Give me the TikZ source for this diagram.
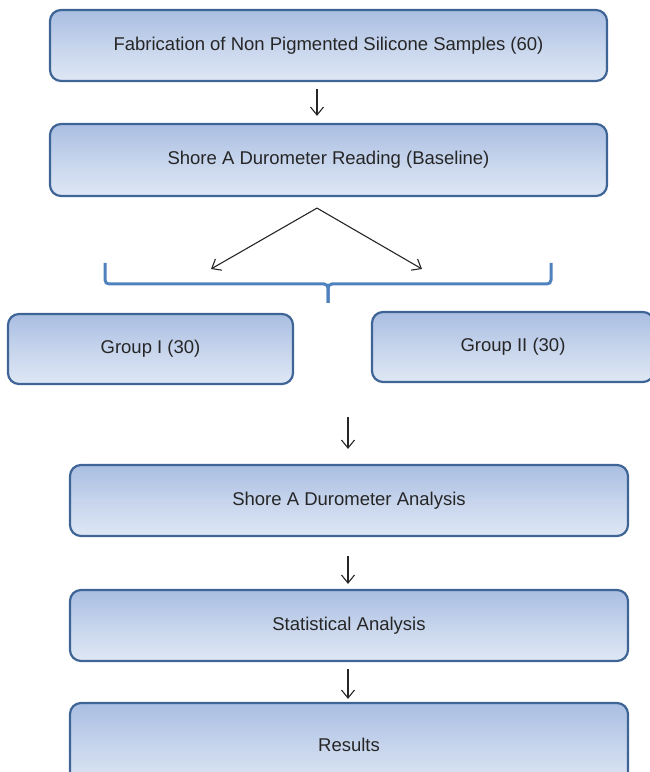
\documentclass[tikz,border=0pt]{standalone}
\usepackage{fontspec}
\setmainfont{Liberation Sans}
\usetikzlibrary{arrows.meta,calc}
\definecolor{boxline}{HTML}{3F6596}
\definecolor{boxtop}{HTML}{A9BEE2}
\definecolor{boxmid}{HTML}{C6D4EC}
\definecolor{boxbot}{HTML}{DEE7F4}
\definecolor{bracecol}{HTML}{4F81BD}
\definecolor{txt}{HTML}{262626}
\tikzset{
  flowbox/.style={draw=boxline, line width=2.2pt, rounded corners=11pt,
    top color=boxtop, bottom color=boxbot, middle color=boxmid,
    text=txt, font=\fontsize{18.5}{22}\selectfont, inner sep=0pt},
  arr/.style={line width=1.1pt, black!85, -{Straight Barb[length=8pt,width=13pt]}},
  bracestyle/.style={draw=bracecol, line width=3pt, rounded corners=4pt}
}
\begin{document}
\begin{tikzpicture}[x=1pt,y=1pt]
\useasboundingbox (0,0) rectangle (650,772);
\clip (0,0) rectangle (650,772);
\node[flowbox, minimum width=557pt, minimum height=71pt] (b1) at (328.5,726.5) {Fabrication of Non Pigmented Silicone Samples (60)};
\node[flowbox, minimum width=557pt, minimum height=72pt] (b2) at (328.5,612) {Shore A Durometer Reading (Baseline)};
\node[flowbox, minimum width=285pt, minimum height=70pt] (g1) at (150.5,423) {Group I (30)};
\node[flowbox, minimum width=282pt, minimum height=70pt] (g2) at (513,425) {Group II (30)};
\node[flowbox, minimum width=558pt, minimum height=71pt] (b3) at (349,271.5) {Shore A Durometer Analysis};
\node[flowbox, minimum width=558pt, minimum height=71pt] (b4) at (349,146.5) {Statistical Analysis};
\node[flowbox, minimum width=558pt, minimum height=84pt] (b5) at (349,27) {Results};

\draw[arr] ([xshift=-11.5pt,yshift=-7pt]b1.south) -- ([xshift=-11.5pt,yshift=7pt]b2.north);

\coordinate (split) at ([xshift=-11.5pt,yshift=-11pt]b2.south);
\coordinate (leftend) at (211,503);
\coordinate (rightend) at (422,503);
\draw[arr] (split) -- (leftend);
\draw[arr] (split) -- (rightend);

\coordinate (brL) at (105,509);
\coordinate (brR) at (551,509);
\coordinate (brM) at (328,488);
\coordinate (brT) at (328,469);
\draw[bracestyle] (brL) -- (brL |- brM) -- (brM) -- (brT);
\draw[bracestyle] (brR) -- (brR |- brM) -- (brM) -- (brT);

\draw[arr] ([xshift=-1pt,yshift=47pt]b3.north) -- ([xshift=-1pt,yshift=15pt]b3.north);
\draw[arr] ([xshift=-1pt,yshift=-19pt]b3.south) -- ([xshift=-1pt,yshift=5pt]b4.north);
\draw[arr] ([xshift=-1pt,yshift=-7pt]b4.south) -- ([xshift=-1pt,yshift=3pt]b5.north);
\end{tikzpicture}
\end{document}
